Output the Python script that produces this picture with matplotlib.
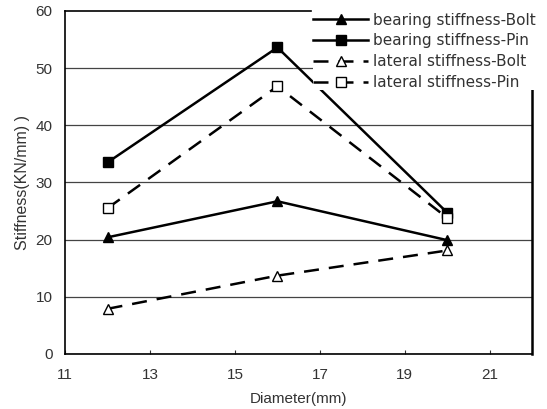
import matplotlib
matplotlib.use("Agg")
import matplotlib.pyplot as plt

# diameters (mm) and stiffness values (KN/mm)
diameter = [12, 16, 20]
bearing_bolt = [20.4, 26.7, 19.9]
bearing_pin = [33.5, 53.6, 24.7]
lateral_bolt = [7.9, 13.7, 18.1]
lateral_pin = [25.5, 46.8, 23.8]

plt.rcParams['font.family'] = ['Liberation Sans', 'DejaVu Sans']

fig = plt.figure(figsize=(5.47, 4.09), dpi=100)
ax = fig.add_axes([0.119, 0.1345, 0.854, 0.839])

ax.plot(diameter, bearing_bolt, color='black', lw=1.8, marker='^', ms=7,
        mfc='black', mec='black', label='bearing stiffness-Bolt', zorder=3)
ax.plot(diameter, bearing_pin, color='black', lw=1.8, marker='s', ms=7,
        mfc='black', mec='black', label='bearing stiffness-Pin', zorder=3)
ax.plot(diameter, lateral_bolt, color='black', lw=1.8, ls=(0, (6, 4)), marker='^', ms=7,
        mfc='white', mec='black', label='lateral stiffness-Bolt', zorder=3)
ax.plot(diameter, lateral_pin, color='black', lw=1.8, ls=(0, (6, 4)), marker='s', ms=7,
        mfc='white', mec='black', label='lateral stiffness-Pin', zorder=3)

ax.set_xlim(11, 22)
ax.set_ylim(0, 60)
ax.set_xticks([11, 13, 15, 17, 19, 21])
ax.set_yticks(range(0, 61, 10))
ax.yaxis.grid(True, color='#444444', lw=0.9)
ax.set_axisbelow(True)
# no grid line along the top edge, the frame handles that
ax.yaxis.get_gridlines()[-1].set_visible(False)
ax.tick_params(axis='x', direction='in', length=3, labelsize=11, colors='#333333', pad=10)
ax.tick_params(axis='y', length=0, labelsize=11, colors='#333333', pad=9)
for s in ax.spines.values():
    s.set_linewidth(1.2)
ax.spines['right'].set_linewidth(1.8)
# the legend sits over the top-right corner of the frame
ax.spines['top'].set_bounds(11, 16.8)
ax.spines['right'].set_bounds(0, 46.5)

ax.set_xlabel('Diameter(mm)', fontsize=11, color='#333333', labelpad=7)
ax.set_ylabel('Stiffness(KN/mm) )', fontsize=11.5, color='#333333', labelpad=4)

leg = ax.legend(loc='upper left', bbox_to_anchor=(0.531, 0.995),
                prop={'family': 'DejaVu Sans', 'size': 11},
                frameon=True, fancybox=False, handlelength=3.6, handletextpad=0.3,
                labelspacing=0.38, borderpad=0.0, borderaxespad=0)
leg.get_frame().set_facecolor('white')
leg.get_frame().set_edgecolor('none')
leg.get_frame().set_alpha(1)
for t in leg.get_texts():
    t.set_color('#333333')

fig.savefig('out.png', dpi=100)
